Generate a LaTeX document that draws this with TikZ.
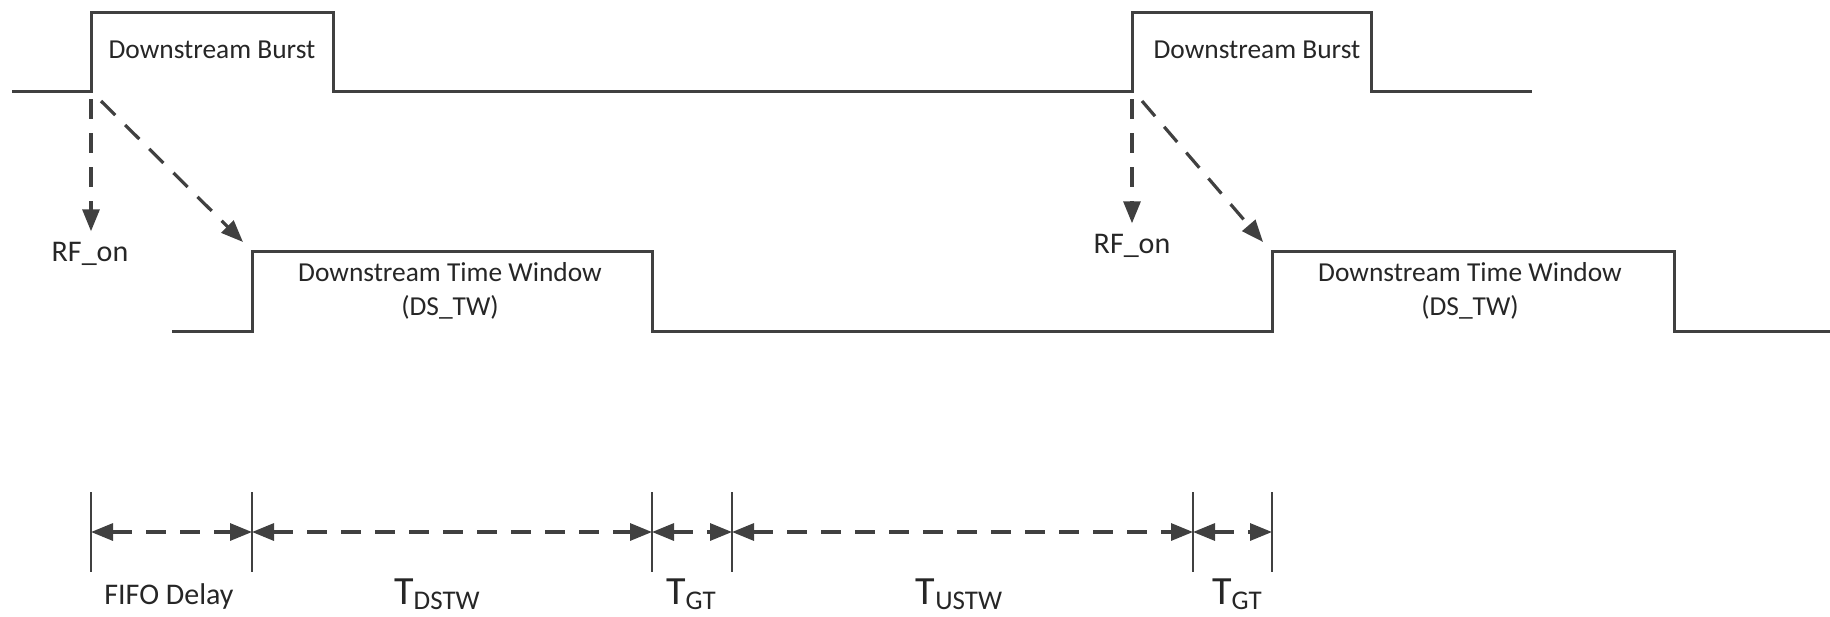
\documentclass[tikz,border=0pt]{standalone}
\usepackage{fontspec}
\setmainfont{Carlito}
\usetikzlibrary{arrows.meta, positioning}
\tikzset{
  signal/.style={line width=1.5pt, draw=black!75, line join=miter},
  cue/.style={line width=1.6pt, draw=black!75, dash pattern=on 10pt off 7pt, -{Triangle[length=11pt,width=8.5pt]}},
  span/.style={line width=1.6pt, draw=black!75, dash pattern=on 10pt off 7pt, {Triangle[length=11pt,width=8.5pt]}-{Triangle[length=11pt,width=8.5pt]}},
  tickline/.style={line width=1.2pt, draw=black!75},
  lbl/.style={font=\fontsize{13.7}{17}\selectfont, text=black!85, align=center},
  biglbl/.style={lbl, font=\fontsize{15}{18}\selectfont},
}
\newcommand{\tlabel}[1]{{\fontsize{20}{22}\selectfont T}\raisebox{-2.4pt}{\fontsize{13.5}{15}\selectfont #1}}

\begin{document}
\begin{tikzpicture}[x=0.5pt, y=-0.5pt]
\useasboundingbox (0,0) rectangle (1830,616);

% Downstream burst signal
\coordinate (b1up) at (91,91);
\coordinate (b2up) at (1132,91);
\draw[signal] (12,91) -- (b1up) -- (91,12) -- (333,12) -- (333,91) -- (b2up)
  -- (1132,12) -- (1371,12) -- (1371,91) -- (1532,91);
\node[lbl] (burst1) at (212,50) {Downstream Burst};
\node[lbl] (burst2) at (1257,50) {Downstream Burst};

% Downstream time window signal
\coordinate (w1up) at (252,251);
\coordinate (w2up) at (1272,251);
\draw[signal] (172,331) -- (252,331) -- (w1up) -- (652,251) -- (652,331) -- (1272,331)
  -- (w2up) -- (1674,251) -- (1674,331) -- (1830,331);
\node[lbl] (win1) at (450,291) {Downstream Time Window\\(DS\_TW)};
\node[lbl] (win2) at (1470,291) {Downstream Time Window\\(DS\_TW)};

% RF_on cues
\node[biglbl] (rf1) at (90,254) {RF\_on};
\node[biglbl] (rf2) at (1132,246) {RF\_on};
\draw[cue] ([yshift=-4pt]b1up) -- ([yshift=2pt]rf1.north -| b1up);
\draw[cue] ([xshift=5pt,yshift=-5pt]b1up) -- ([xshift=-4.5pt,yshift=4.5pt]w1up);
\draw[cue] ([yshift=-4pt]b2up) -- ([yshift=2pt]rf2.north -| b2up);
\draw[cue] ([xshift=5pt,yshift=-5pt]b2up) -- ([xshift=-4.5pt,yshift=4.5pt]w2up);

% Timing spans
\foreach \name/\xx in {m0/91, m1/252, m2/652, m3/732, m4/1193, m5/1272} {
  \coordinate (\name) at (\xx,532);
  \draw[tickline] (\xx,492) -- (\xx,572);
}
\draw[span] (m0) -- (m1);
\draw[span] (m1) -- (m2);
\draw[span] (m2) -- (m3);
\draw[span] (m3) -- (m4);
\draw[span] (m4) -- (m5);

\node[biglbl] (fifo) at (169,596) {FIFO Delay};
\node[lbl] (tdstw) at (437,594) {\tlabel{DSTW}};
\node[lbl] (tgt1) at (691,594) {\tlabel{GT}};
\node[lbl] (tustw) at (959,594) {\tlabel{USTW}};
\node[lbl] (tgt2) at (1237,594) {\tlabel{GT}};

\end{tikzpicture}
\end{document}
